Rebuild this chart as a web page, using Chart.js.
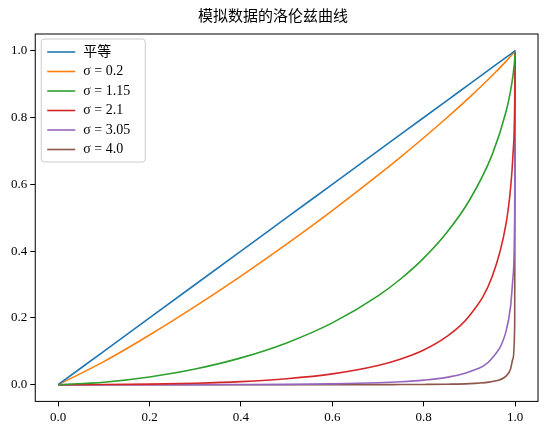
<!DOCTYPE html>
<html><head><meta charset="utf-8">
<script src="https://cdn.jsdelivr.net/npm/chart.js@4/dist/chart.umd.min.js"></script>
<style>body{margin:0;background:#fff}#wrap{width:546px;height:436px}</style>
</head><body><div id="wrap"><canvas id="c"></canvas></div>
<script>
const xs = [0, 0.1, 0.2, 0.3, 0.4, 0.5, 0.6, 0.7, 0.75, 0.8, 0.85, 0.9, 0.95, 0.98, 0.99, 0.995, 0.999, 1.0];
const labels = ['平等', 'σ = 0.2', 'σ = 1.15', 'σ = 2.1', 'σ = 3.05', 'σ = 4.0'];
const colors = ['#1f77b4', '#ff7f0e', '#2ca02c', '#d62728', '#9467bd', '#8c564b'];
const equal = xs.slice();
const s02 = [0, 0.0692, 0.1488, 0.2344, 0.3252, 0.4207, 0.5213, 0.6272, 0.6824, 0.7394, 0.7985, 0.8603, 0.9258, 0.9681, 0.9832, 0.9912, 0.9981, 1];
const s115 = [0, 0.0075, 0.0232, 0.047, 0.0803, 0.1251, 0.185, 0.2658, 0.3172, 0.3789, 0.4548, 0.5523, 0.6897, 0.817, 0.88, 0.923, 0.974, 1];
const s21 = [0, 0.0004, 0.0016, 0.0043, 0.0093, 0.0179, 0.0324, 0.0575, 0.077, 0.104, 0.1438, 0.2066, 0.3246, 0.4817, 0.589, 0.683, 0.839, 1];
const s305 = [0, 0, 0.00005, 0.0002, 0.0005, 0.0011, 0.0026, 0.0058, 0.0088, 0.0136, 0.022, 0.0385, 0.08, 0.1596, 0.2345, 0.3177, 0.516, 1];
const s40 = [0, 0, 0, 0, 0, 0.00003, 0.0001, 0.0003, 0.0004, 0.0008, 0.0015, 0.0033, 0.0093, 0.0258, 0.047, 0.0772, 0.181, 1];
const series = [equal, s02, s115, s21, s305, s40];
const tickVals = [0, 0.2, 0.4, 0.6, 0.8, 1.0];
const FONT = "'Liberation Serif', 'DejaVu Serif', serif";

const datasets = series.map((ys, i) => ({
  label: labels[i],
  data: xs.map((x, j) => ({x, y: ys[j]})),
  borderColor: colors[i], backgroundColor: colors[i],
  borderWidth: 1.6, pointRadius: 0, cubicInterpolationMode: 'monotone', fill: false
}));

const frame = {
  id: 'frame',
  afterDraw(chart) {
    const {ctx, chartArea: a} = chart;
    ctx.save();
    ctx.strokeStyle = '#000'; ctx.lineWidth = 1;
    ctx.strokeRect(a.left, a.top, a.right - a.left, a.bottom - a.top);
    // legend
    const x0 = a.left + 6, y0 = a.top + 5, w = 104, rowH = 19.5;
    ctx.fillStyle = 'rgba(255,255,255,0.8)';
    ctx.strokeStyle = '#ccc';
    ctx.beginPath(); ctx.roundRect(x0, y0, w, rowH * labels.length + 6, 3); ctx.fill(); ctx.stroke();
    ctx.font = "14px 'Liberation Serif', 'Noto Sans CJK SC', serif";
    ctx.textBaseline = 'middle';
    labels.forEach((l, i) => {
      const y = y0 + 13 + i * rowH;
      ctx.strokeStyle = colors[i]; ctx.lineWidth = 1.6;
      ctx.beginPath(); ctx.moveTo(x0 + 6, y); ctx.lineTo(x0 + 34, y); ctx.stroke();
      ctx.fillStyle = '#000';
      ctx.fillText(l, x0 + 42, y);
    });
    ctx.restore();
  }
};

const axis = {
  type: 'linear', min: -0.05, max: 1.05,
  afterBuildTicks: s => { s.ticks = tickVals.map(v => ({value: v})); },
  grid: {drawOnChartArea: false, tickLength: 5, color: '#000'},
  border: {display: false},
  ticks: {color: '#000', font: {family: FONT, size: 13}, callback: v => v.toFixed(1)}
};

new Chart(document.getElementById('c'), {
  type: 'line',
  data: {datasets},
  options: {
    responsive: true, maintainAspectRatio: false, animation: false,
    layout: {padding: {left: 8, right: 8, top: 0, bottom: 8}},
    scales: {x: {...axis}, y: {...axis}},
    plugins: {
      legend: {display: false},
      tooltip: {enabled: false},
      title: {display: true, text: '模拟数据的洛伦兹曲线', color: '#000',
        font: {family: "'Noto Sans CJK SC', serif", size: 15, weight: 'normal'}, padding: {top: 6, bottom: 10}}
    }
  },
  plugins: [frame]
});
</script></body></html>
